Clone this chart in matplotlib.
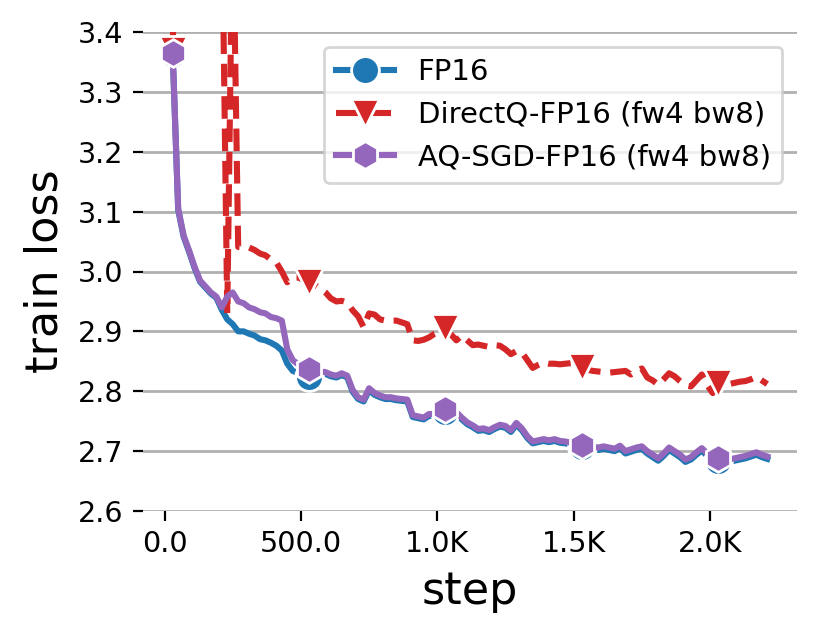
import numpy as np
import matplotlib
matplotlib.use("Agg")
import matplotlib.pyplot as plt
from matplotlib.ticker import FuncFormatter

steps = np.arange(30, 2211, 20)

fp16 = [
    3.363, 3.103, 3.058, 3.033, 3.006, 2.983, 2.973, 2.963, 2.956, 2.936,
    2.920, 2.912, 2.900, 2.900, 2.896, 2.893, 2.887, 2.885, 2.881, 2.876,
    2.868, 2.846, 2.834, 2.830, 2.826, 2.823, 2.831, 2.830, 2.829, 2.825,
    2.823, 2.827, 2.823, 2.799, 2.787, 2.783, 2.802, 2.794, 2.790, 2.787,
    2.787, 2.785, 2.784, 2.783, 2.757, 2.755, 2.753, 2.759, 2.759, 2.765,
    2.766, 2.769, 2.762, 2.753, 2.745, 2.740, 2.734, 2.735, 2.732, 2.737,
    2.741, 2.739, 2.732, 2.744, 2.735, 2.722, 2.713, 2.715, 2.717, 2.715,
    2.717, 2.714, 2.713, 2.711, 2.709, 2.707, 2.705, 2.703, 2.702, 2.704,
    2.702, 2.700, 2.705, 2.696, 2.699, 2.702, 2.704, 2.696, 2.690, 2.684,
    2.692, 2.702, 2.696, 2.690, 2.682, 2.686, 2.694, 2.701, 2.692, 2.686,
    2.684, 2.686, 2.682, 2.684, 2.686, 2.688, 2.691, 2.694, 2.690, 2.687,
]

directq = [
    3.370, 3.900, 3.850, 3.800, 3.750, 3.720, 3.700, 3.680, 3.650, 3.620,
    2.930, 3.620, 3.041, 3.040, 3.040, 3.036, 3.030, 3.027, 3.020, 3.015,
    3.000, 2.982, 2.990, 2.990, 2.986, 2.982, 2.978, 2.972, 2.965, 2.955,
    2.950, 2.951, 2.948, 2.935, 2.925, 2.907, 2.930, 2.928, 2.920, 2.918,
    2.918, 2.918, 2.915, 2.912, 2.885, 2.884, 2.886, 2.890, 2.896, 2.900,
    2.905, 2.895, 2.885, 2.893, 2.885, 2.877, 2.878, 2.876, 2.874, 2.877,
    2.876, 2.870, 2.862, 2.867, 2.865, 2.852, 2.839, 2.844, 2.848, 2.846,
    2.846, 2.845, 2.846, 2.847, 2.848, 2.840, 2.836, 2.834, 2.833, 2.832,
    2.831, 2.832, 2.833, 2.834, 2.828, 2.834, 2.838, 2.823, 2.818, 2.811,
    2.820, 2.830, 2.825, 2.817, 2.810, 2.808, 2.818, 2.828, 2.810, 2.797,
    2.814, 2.815, 2.812, 2.814, 2.816, 2.817, 2.820, 2.824, 2.818, 2.812,
]

aqsgd = [
    3.365, 3.105, 3.060, 3.035, 3.008, 2.985, 2.975, 2.965, 2.958, 2.940,
    2.958, 2.965, 2.950, 2.947, 2.940, 2.937, 2.932, 2.930, 2.924, 2.922,
    2.918, 2.870, 2.852, 2.845, 2.840, 2.837, 2.835, 2.833, 2.832, 2.828,
    2.826, 2.830, 2.826, 2.802, 2.790, 2.786, 2.805, 2.797, 2.793, 2.790,
    2.790, 2.788, 2.787, 2.786, 2.760, 2.758, 2.756, 2.762, 2.762, 2.768,
    2.770, 2.772, 2.765, 2.756, 2.748, 2.743, 2.737, 2.738, 2.735, 2.740,
    2.744, 2.742, 2.735, 2.747, 2.738, 2.725, 2.716, 2.718, 2.720, 2.718,
    2.720, 2.717, 2.716, 2.714, 2.712, 2.710, 2.709, 2.707, 2.706, 2.708,
    2.706, 2.704, 2.709, 2.700, 2.703, 2.706, 2.708, 2.700, 2.694, 2.688,
    2.696, 2.706, 2.700, 2.694, 2.686, 2.690, 2.698, 2.705, 2.696, 2.690,
    2.688, 2.690, 2.686, 2.688, 2.690, 2.692, 2.695, 2.698, 2.694, 2.691,
]

labels = ["FP16", "DirectQ-FP16 (fw4 bw8)", "AQ-SGD-FP16 (fw4 bw8)"]
colors = ["#1f77b4", "#d62728", "#9467bd"]
markers = ["o", "v", "h"]
styles = ["-", "--", "-"]
series = [fp16, directq, aqsgd]

yticks = [2.6, 2.7, 2.8, 2.9, 3.0, 3.1, 3.2, 3.3, 3.4]
xticks = [0, 500, 1000, 1500, 2000]

fig = plt.figure(figsize=(8.29 / 2, 6.35 / 2), dpi=200)
ax = fig.add_axes([143 / 829, 1 - 511 / 635, (797 - 143) / 829, (511 - 32) / 635])

for vals, lab, c, m, ls in zip(series, labels, colors, markers, styles):
    ax.plot(steps, vals, color=c, ls=ls, lw=2.2, marker=m, markersize=10,
            markevery=25, markeredgecolor="white", markeredgewidth=1.0,
            label=lab)

ax.set_ylim(2.6, 3.4)
ax.set_yticks(yticks)
ax.set_yticklabels([f"{v:.1f}" for v in yticks])
ax.set_xticks(xticks)
ax.xaxis.set_major_formatter(FuncFormatter(
    lambda v, p: f"{v/1000:.1f}K" if v >= 1000 else f"{v:.1f}"))

for s in ax.spines.values():
    s.set_visible(False)
ax.yaxis.grid(True, color="#b0b0b0", lw=1.0)
ax.set_axisbelow(True)
ax.tick_params(axis="both", labelsize=10.3, length=3.5, width=0.8, color="black")

ax.set_xlabel("step", fontsize=16)
ax.set_ylabel("train loss", fontsize=16)

leg = ax.legend(loc="upper right", fontsize=10.5)
leg.get_frame().set_edgecolor("#cccccc")

fig.savefig("out.png", dpi=200)
